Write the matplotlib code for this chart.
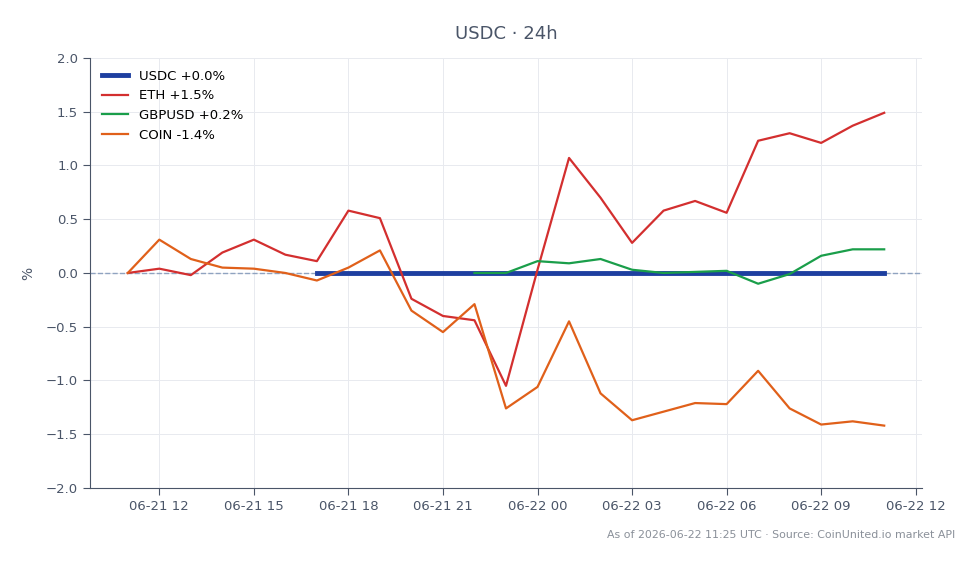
import matplotlib
matplotlib.use("Agg")
import matplotlib.pyplot as plt
import matplotlib.dates as mdates
import pandas as pd

# hourly samples, 06-21 11:00 -> 06-22 11:00 UTC
times = pd.date_range("2026-06-21 11:00", "2026-06-22 11:00", freq="h")

eth = [0.00, 0.04, -0.02, 0.19, 0.31, 0.17, 0.11, 0.58, 0.51, -0.24, -0.40, -0.44, -1.05,
       0.03, 1.07, 0.70, 0.28, 0.58, 0.67, 0.56, 1.23, 1.30, 1.21, 1.37, 1.49]
coin = [0.00, 0.31, 0.13, 0.05, 0.04, 0.00, -0.07, 0.05, 0.21, -0.35, -0.55, -0.29, -1.26,
        -1.06, -0.45, -1.12, -1.37, -1.29, -1.21, -1.22, -0.91, -1.26, -1.41, -1.38, -1.42]
# GBPUSD from 06-21 22:00
gbpusd = [0.00, 0.00, 0.11, 0.09, 0.13, 0.03, 0.00, 0.01, 0.02, -0.10, -0.01, 0.16, 0.22, 0.22]
# USDC from 06-21 17:00
usdc = [0.0] * 19

labels = ["USDC +0.0%", "ETH +1.5%", "GBPUSD +0.2%", "COIN -1.4%"]
text_col = "#4a5568"

fig = plt.figure(figsize=(9.79, 5.64), dpi=100)
ax = fig.add_axes([0.0919, 0.1348, 0.8499, 0.7624])

ax.axhline(0, color="#8fa3c0", lw=1, ls="--", zorder=1)
ax.plot(times[6:], usdc, color="#1e3fa0", lw=3.5, label=labels[0], zorder=3)
ax.plot(times, eth, color="#d32f2f", lw=1.6, label=labels[1], zorder=4)
ax.plot(times[11:], gbpusd, color="#1a9e4a", lw=1.6, label=labels[2], zorder=4)
ax.plot(times, coin, color="#e0601a", lw=1.6, label=labels[3], zorder=4)

ax.set_ylim(-2, 2)
ax.set_yticks([-2, -1.5, -1, -0.5, 0, 0.5, 1, 1.5, 2])
ax.xaxis.set_major_locator(mdates.HourLocator(byhour=range(0, 24, 3)))
ax.xaxis.set_major_formatter(mdates.DateFormatter("%m-%d %H"))

ax.grid(True, color="#e8eaef", lw=0.7)
ax.set_axisbelow(True)
for s in ["top", "right"]:
    ax.spines[s].set_visible(False)
for s in ["left", "bottom"]:
    ax.spines[s].set_color(text_col)
ax.tick_params(colors=text_col, labelsize=9.5, length=5)
ax.set_ylabel("%", color=text_col, fontsize=10, labelpad=8)

ax.set_title("USDC · 24h", color=text_col, fontsize=13, pad=14)
leg = ax.legend(loc="upper left", frameon=False, fontsize=9.5)

fig.text(0.976, 0.051, "As of 2026-06-22 11:25 UTC · Source: CoinUnited.io market API",
         ha="right", va="center", color="#8a9099", fontsize=7.9)

fig.savefig("out.png", dpi=100)
